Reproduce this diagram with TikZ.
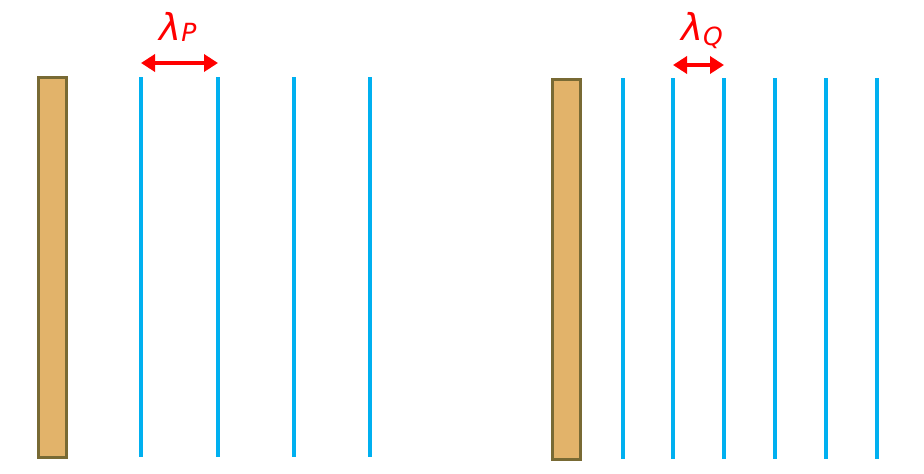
\documentclass[tikz,border=0pt]{standalone}
\usepackage{fontspec}
\setmainfont{DejaVu Sans}
\usetikzlibrary{arrows.meta}
\definecolor{plateedge}{HTML}{786A34}
\definecolor{platefill}{HTML}{E2B36A}
\definecolor{waveblue}{HTML}{00B0F0}
\definecolor{spanred}{HTML}{FF0000}

\begin{document}
\begin{tikzpicture}[x=1pt,y=-1pt,
	plate/.style={draw=plateedge,fill=platefill,line width=3pt},
	wave/.style={draw=waveblue,line width=3.5pt},
	span/.style={{Triangle[length=14pt,width=17pt]}-{Triangle[length=14pt,width=17pt]},draw=spanred,line width=3.5pt},
	wavelabel/.style={text=spanred,anchor=base,inner sep=0pt,font=\fontsize{37}{37}\selectfont\itshape}];
	
	\useasboundingbox (0,0) rectangle (924,474);
	
	% first source, long wavelength
	\draw[plate] (38,77) rectangle (66,457);
	\foreach \i/\x in {1/141,2/218,3/294,4/370} {
		\draw[wave] (\x,77) -- (\x,457);
		\coordinate (p\i) at (\x,63);
	}
	
	% second source, short wavelength
	\draw[plate] (552,79) rectangle (580,459);
	\foreach \i/\x in {1/623,2/673,3/724,4/775,5/826,6/877} {
		\draw[wave] (\x,78) -- (\x,459);
		\coordinate (q\i) at (\x,65);
	}
	
	\draw[span] (p1) -- (p2);
	\draw[span] (q2) -- (q3);
	
	\node[wavelabel] (lp) at (178,40) {λ\raisebox{-0.04em}{\fontsize{25}{25}\selectfont P}};
	\node[wavelabel] (lq) at (702,40) {λ\raisebox{-0.16em}{\fontsize{25}{25}\selectfont Q}};
	
\end{tikzpicture}
\end{document}
